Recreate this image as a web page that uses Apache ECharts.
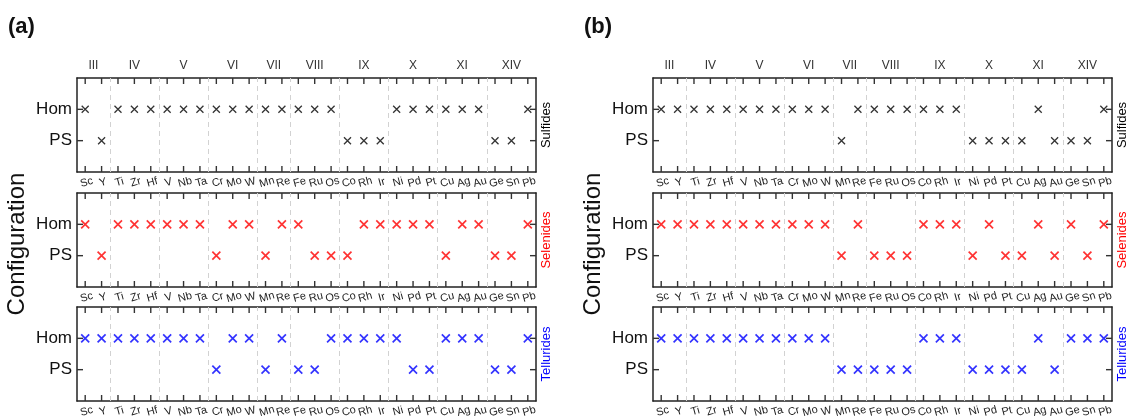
<!DOCTYPE html>
<html>
<head>
<meta charset="utf-8">
<title>Configuration by element</title>
<script src="https://cdn.jsdelivr.net/npm/echarts@6/dist/echarts.min.js"></script>
<style>
  html, body { margin: 0; padding: 0; background: #fff; }
  #chart { width: 1131px; height: 418px; }
</style>
</head>
<body>
<div id="chart"></div>
<script>
// Elements along the x axis, grouped by periodic-table group
const elements = ['Sc','Y','Ti','Zr','Hf','V','Nb','Ta','Cr','Mo','W','Mn','Re','Fe','Ru','Os','Co','Rh','Ir','Ni','Pd','Pt','Cu','Ag','Au','Ge','Sn','Pb'];
const groups = ['III','IV','V','VI','VII','VIII','IX','X','XI','XIV'];
const groupSizes = [2,3,3,3,2,3,3,3,3,3];

// y values: 0 = PS, 1 = Hom
const configLabels = ['PS','Hom'];

// Configuration per element (1 = Hom, 0 = PS), panel (a)
const sulfidesA   = [1,0,1,1,1,1,1,1,1,1,1,1,1,1,1,1,0,0,0,1,1,1,1,1,1,0,0,1];
const selenidesA  = [1,0,1,1,1,1,1,1,0,1,1,0,1,1,0,0,0,1,1,1,1,1,0,1,1,0,0,1];
const telluridesA = [1,1,1,1,1,1,1,1,0,1,1,0,1,0,0,1,1,1,1,1,0,0,1,1,1,0,0,1];

// Configuration per element (1 = Hom, 0 = PS), panel (b)
const sulfidesB   = [1,1,1,1,1,1,1,1,1,1,1,0,1,1,1,1,1,1,1,0,0,0,0,1,0,0,0,1];
const selenidesB  = [1,1,1,1,1,1,1,1,1,1,1,0,1,0,0,0,1,1,1,0,1,0,0,1,0,1,0,1];
const telluridesB = [1,1,1,1,1,1,1,1,1,1,1,0,0,0,0,0,1,1,1,0,0,0,0,1,0,1,1,1];

const materials = [
  { name: 'Sulfides',   color: '#000000', size: 7, width: 1.3 },
  { name: 'Selenides',  color: '#ff0000', size: 8, width: 1.7 },
  { name: 'Tellurides', color: '#0000ff', size: 8, width: 1.7 }
];
const panels = [
  { label: '(a)', left: 77,  data: [sulfidesA, selenidesA, telluridesA] },
  { label: '(b)', left: 653, data: [sulfidesB, selenidesB, telluridesB] }
];

const FONT = 'Liberation Sans, Arial, Helvetica, sans-serif';
const GRID_W = 459, GRID_H = 94;
const GRID_TOPS = [78, 193, 307];
const TICK_LEN = 6, TICK_W = 1.4, TICK_COLOR = '#333';

// group centres and boundaries in element-index units
const groupCenters = [], groupBounds = [];
let start = 0;
groupSizes.forEach((n, i) => {
  groupCenters.push(start + (n - 1) / 2);
  start += n;
  if (i < groupSizes.length - 1) groupBounds.push(start - 0.5);
});
const elementIdx = elements.map((_, i) => i);

const grid = [], xAxis = [], yAxis = [], series = [];
const axisLineStyle = { color: '#222', width: 1.5 };

// inward ticks on the top and bottom edges at every element
function renderXTicks(params, api) {
  const x = api.coord([api.value(0), 0])[0];
  const cs = params.coordSys;
  const top = cs.y, bottom = cs.y + cs.height;
  const style = { fill: TICK_COLOR };
  return {
    type: 'group',
    children: [
      { type: 'rect', shape: { x: x - TICK_W / 2, y: top, width: TICK_W, height: TICK_LEN }, style },
      { type: 'rect', shape: { x: x - TICK_W / 2, y: bottom - TICK_LEN, width: TICK_W, height: TICK_LEN }, style }
    ]
  };
}
// inward ticks on the left and right edges at Hom and PS
function renderYTicks(params, api) {
  const y = api.coord([0, api.value(1)])[1];
  const cs = params.coordSys;
  const left = cs.x, right = cs.x + cs.width;
  const style = { fill: TICK_COLOR };
  return {
    type: 'group',
    children: [
      { type: 'rect', shape: { x: left, y: y - TICK_W / 2, width: TICK_LEN, height: TICK_W }, style },
      { type: 'rect', shape: { x: right - TICK_LEN, y: y - TICK_W / 2, width: TICK_LEN, height: TICK_W }, style }
    ]
  };
}

panels.forEach((p, pi) => {
  materials.forEach((m, mi) => {
    const gi = grid.length;
    grid.push({ left: p.left, top: GRID_TOPS[mi], width: GRID_W, height: GRID_H, outerBoundsMode: 'none' });

    // bottom: element names
    xAxis.push({
      type: 'value', gridIndex: gi, position: 'bottom', min: -0.5, max: 27.5,
      axisLine: { show: true, onZero: false, lineStyle: axisLineStyle },
      axisTick: { show: false },
      axisLabel: {
        fontSize: 11, color: '#222', fontFamily: FONT, margin: 5, rotate: 15, align: 'center', verticalAlign: 'top',
        customValues: elementIdx, formatter: v => elements[v] || ''
      },
      splitLine: { show: false }
    });
    // top: group names on the first row
    xAxis.push({
      type: 'value', gridIndex: gi, position: 'top', min: -0.5, max: 27.5,
      axisLine: { show: true, onZero: false, lineStyle: axisLineStyle },
      axisTick: { show: false },
      axisLabel: {
        show: mi === 0, fontSize: 12, color: '#333', fontFamily: FONT, margin: 6,
        customValues: groupCenters,
        formatter: v => { const k = groupCenters.indexOf(v); return k >= 0 ? groups[k] : ''; }
      },
      splitLine: { show: false }
    });

    yAxis.push({
      type: 'value', gridIndex: gi, position: 'left', min: -1, max: 2,
      axisLine: { show: true, onZero: false, lineStyle: axisLineStyle },
      axisTick: { show: false },
      axisLabel: {
        fontSize: 17, color: '#111', fontFamily: FONT, margin: 5, customValues: [0, 1],
        formatter: v => configLabels[v] || ''
      },
      splitLine: { show: false }
    });
    yAxis.push({
      type: 'value', gridIndex: gi, position: 'right', min: -1, max: 2,
      name: m.name, nameLocation: 'middle', nameRotate: 90, nameGap: 4,
      nameTextStyle: { fontSize: 13, color: m.color, fontFamily: FONT },
      axisLine: { show: true, onZero: false, lineStyle: axisLineStyle },
      axisTick: { show: false },
      axisLabel: { show: false },
      splitLine: { show: false }
    });

    series.push({
      type: 'custom',
      coordinateSystem: 'cartesian2d',
      xAxisIndex: gi * 2 + 1,
      yAxisIndex: gi * 2,
      data: elementIdx.map(i => [i, 0]),
      encode: { x: 0, y: 1 },
      renderItem: renderXTicks,
      silent: true,
      clip: false,
      z: 4
    });
    series.push({
      type: 'custom',
      coordinateSystem: 'cartesian2d',
      xAxisIndex: gi * 2 + 1,
      yAxisIndex: gi * 2,
      data: [0, 1].map(v => [0, v]),
      encode: { x: 0, y: 1 },
      renderItem: renderYTicks,
      silent: true,
      clip: false,
      z: 4
    });

    series.push({
      type: 'scatter',
      xAxisIndex: gi * 2 + 1,
      yAxisIndex: gi * 2,
      data: p.data[mi].map((c, i) => [i, c]),
      symbol: 'path://M0,0L10,10M10,0L0,10',
      symbolSize: m.size,
      itemStyle: { color: m.color, borderColor: m.color, borderWidth: m.width },
      silent: true,
      z: 5,
      markLine: {
        silent: true,
        symbol: ['none', 'none'],
        label: { show: false },
        lineStyle: { type: [5, 4], color: '#d2d2d2', width: 1 },
        emphasis: { disabled: true },
        data: groupBounds.map(b => ({ xAxis: b })),
        z: 1
      }
    });
  });
});

const graphic = [];
panels.forEach(p => {
  graphic.push({
    type: 'text', left: p.left - 69, top: 16,
    style: { text: p.label, font: 'bold 22px ' + FONT, fill: '#111' }
  });
  graphic.push({
    type: 'text', x: p.left - 60, y: 244, rotation: Math.PI / 2,
    style: { text: 'Configuration', font: '24px ' + FONT, fill: '#111', align: 'center', verticalAlign: 'middle' }
  });
});

const chart = echarts.init(document.getElementById('chart'), null, { renderer: 'canvas' });
chart.setOption({
  animation: false,
  backgroundColor: '#fff',
  grid, xAxis, yAxis, series, graphic
});
</script>
</body>
</html>
